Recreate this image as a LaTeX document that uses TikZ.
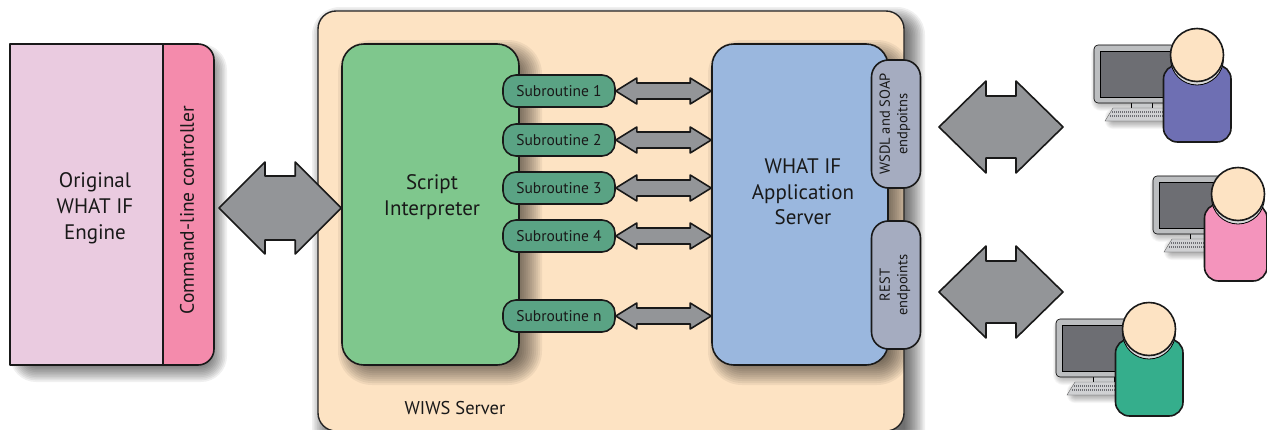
\documentclass[tikz,border=0pt]{standalone}
\usepackage{fontspec}
\setmainfont{PT Sans}
\usetikzlibrary{calc,positioning}
\definecolor{engine}{HTML}{EACBE0}
\definecolor{ctrl}{HTML}{F48BAC}
\definecolor{peach}{HTML}{FDE3C3}
\definecolor{script}{HTML}{7FC78D}
\definecolor{subr}{HTML}{5AA384}
\definecolor{appsrv}{HTML}{9AB7DE}
\definecolor{arrowgray}{HTML}{939598}
\definecolor{endp}{HTML}{A5ACC0}
\definecolor{purp}{HTML}{6E6FB3}
\definecolor{hotp}{HTML}{F494BC}
\definecolor{teal2}{HTML}{35AE8C}
\definecolor{frame}{HTML}{BCBEC0}
\definecolor{screen}{HTML}{6D6E73}
\tikzset{
 outl/.style={draw=black!90,line width=1.6pt,line join=round},
 boxlabel/.style={align=center,text=black!90,inner sep=0pt},
 subbox/.style={outl,fill=subr,rounded corners=13pt,minimum width=112pt,minimum height=32pt,inner sep=0pt,text=black!90,font=\fontsize{15.5}{17}\selectfont},
 endbox/.style={outl,fill=endp,rounded corners=17pt,minimum width=49pt,inner sep=0pt},
 blockarrow/.style={outl,fill=arrowgray},
}
% soft shadow: x1 y1 x2 y2 radius spread layer-opacity
\newcommand{\softshadow}[7]{%
 \foreach \k in {6,5,...,-6}{%
  \pgfmathsetmacro{\g}{\k*#6/6}%
  \pgfmathsetmacro{\r}{max(#5+\g,1)}%
  \fill[black,opacity=#7,rounded corners=\r pt] ({#1-(\g)},{#2-(\g)}) rectangle ({#3+\g},{#4+\g});}}
% block arrow between two named coordinates at equal height: from,to,headlen,headhalf,shafthalf
\newcommand{\dblarrow}[5]{%
 \draw[blockarrow] (#1) -- ($(#1)+(#3,-#4)$) -- ($(#1)+(#3,-#5)$) -- ($(#2)+(-#3,-#5)$) -- ($(#2)+(-#3,-#4)$) -- (#2)
  -- ($(#2)+(-#3,#4)$) -- ($(#2)+(-#3,#5)$) -- ($(#1)+(#3,#5)$) -- ($(#1)+(#3,#4)$) -- cycle;}
% user: monitor dx dy, person dx dy, colour, body right edge
\newcommand{\userfig}[6]{%
 \begin{scope}[shift={(#1,#2)}]
  \softshadow{1096}{49}{1172}{106}{5}{5}{0.03}
  \softshadow{1110}{114}{1170}{124}{3}{5}{0.035}
  \draw[line width=.5pt,fill=frame!80] (1131,102) rectangle (1152,108);
  \draw[line width=.6pt,fill=frame,rounded corners=4pt] (1094,45) rectangle (1175,103);
  \draw[line width=.6pt,fill=screen] (1100,51) rectangle (1175,97);
  \draw[line width=.3pt,fill=frame!70,draw=black!70] (1113,108) -- (1170,108) -- (1170,121) -- (1105,121) -- cycle;
  \draw[screen,line width=2.2pt,dash pattern=on 1pt off 1pt] (1112,112) -- (1170,112);
  \draw[screen,line width=2.2pt,dash pattern=on 1pt off 1pt] (1110,116) -- (1170,116);
 \end{scope}
 \begin{scope}[shift={(#3,#4)}]
  \draw[outl,fill=#5,rounded corners=14pt] (1163.5,65) rectangle (#6,142);
  \draw[line width=.8pt,fill=frame!60] (1197,58.5) circle (26.5);
  \draw[outl,fill=peach] (1197,55) circle (26.5);
 \end{scope}}
\begin{document}
\begin{tikzpicture}[x=1pt,y=-1pt]
\useasboundingbox (0,0) rectangle (1267,429);
\fill[white] (0,0) rectangle (1267,429);
% engine
\softshadow{20}{54}{217}{372}{16}{10}{0.06}
\draw[outl,fill=engine] (10,44) rectangle (163,365);
\draw[outl,fill=ctrl] (163,44) -- (198,44) arc[start angle=-90,end angle=0,radius=16] -- (214,349) arc[start angle=0,end angle=90,radius=16] -- (163,365) -- cycle;
\node[boxlabel,font=\fontsize{21}{26}\selectfont] (engineText) at (95,208) {Original\\WHAT IF\\Engine};
\node[boxlabel,rotate=90,font=\fontsize{19.5}{22}\selectfont] (ctrlText) at (187,210) {Command-line controller};
% server
\begin{scope}
\clip (0,0) rectangle (1267,429);
\softshadow{322}{17}{915}{460}{18}{10}{0.06}
\draw[line width=1.4pt,draw=black!85,fill=peach,rounded corners=18pt] (318,11) rectangle (904,431);
\end{scope}
\node[boxlabel,font=\fontsize{18.5}{20}\selectfont] (wiws) at (455,408) {WIWS Server};
% script interpreter
\softshadow{350}{52}{530}{373}{22}{12}{0.055}
\node[outl,fill=script,rounded corners=22pt,minimum width=177pt,minimum height=321pt,inner sep=0pt] (script) at (430.5,204.5) {};
\node[boxlabel,font=\fontsize{21}{26}\selectfont] (scriptText) at (432,197) {Script\\Interpreter};
% app server
\begin{scope}
\clip (318,11) rectangle (904,429);
\softshadow{720}{52}{899}{373}{22}{12}{0.055}
\end{scope}
\node[outl,fill=appsrv,rounded corners=22pt,minimum width=176pt,minimum height=321pt,inner sep=0pt] (app) at (800,204.5) {};
\node[boxlabel,font=\fontsize{21}{25.5}\selectfont] (appText) at (803,192) {WHAT IF\\Application\\Server};
% subroutines
\node[subbox] (s1) at (559,91) {Subroutine 1};
\node[subbox] (s2) at (559,140) {Subroutine 2};
\node[subbox] (s3) at (559,188) {Subroutine 3};
\node[subbox] (s4) at (559,236) {Subroutine 4};
\node[subbox] (sn) at (559,316) {Subroutine n};
\foreach \n in {s1,s2,s3,s4,sn}{
 \coordinate (e\n) at (app.west |- \n);
 \dblarrow{\n.east}{e\n}{21}{13}{8}
}
% endpoints
\node[endbox,minimum height=128pt] (wsdl) at (896,124) {};
\node[boxlabel,rotate=90,font=\fontsize{14.5}{17.5}\selectfont] (wsdlText) at (895,124) {WSDL and SOAP\\endpoitns};
\node[endbox,minimum height=128pt] (rest) at (896,285) {};
\node[boxlabel,rotate=90,font=\fontsize{14.5}{17.5}\selectfont] (restText) at (895,285) {REST\\endpoints};
% big arrows
\coordinate (a1) at (219,208);
\coordinate (a2) at (script.west |- a1);
\dblarrow{a1}{a2}{46}{46}{32}
\coordinate (b1) at (939,127);
\coordinate (b2) at (1063,127);
\dblarrow{b1}{b2}{47}{46}{31}
\coordinate (c1) at (939,292);
\coordinate (c2) at (1063,292);
\dblarrow{c1}{c2}{47}{46}{31}
% users
\userfig{0}{0}{0}{0}{purp}{1231}
\userfig{59}{131}{41}{139}{hotp}{1226}
\userfig{-38}{274}{-48}{274}{teal2}{1231}
\end{tikzpicture}
\end{document}
